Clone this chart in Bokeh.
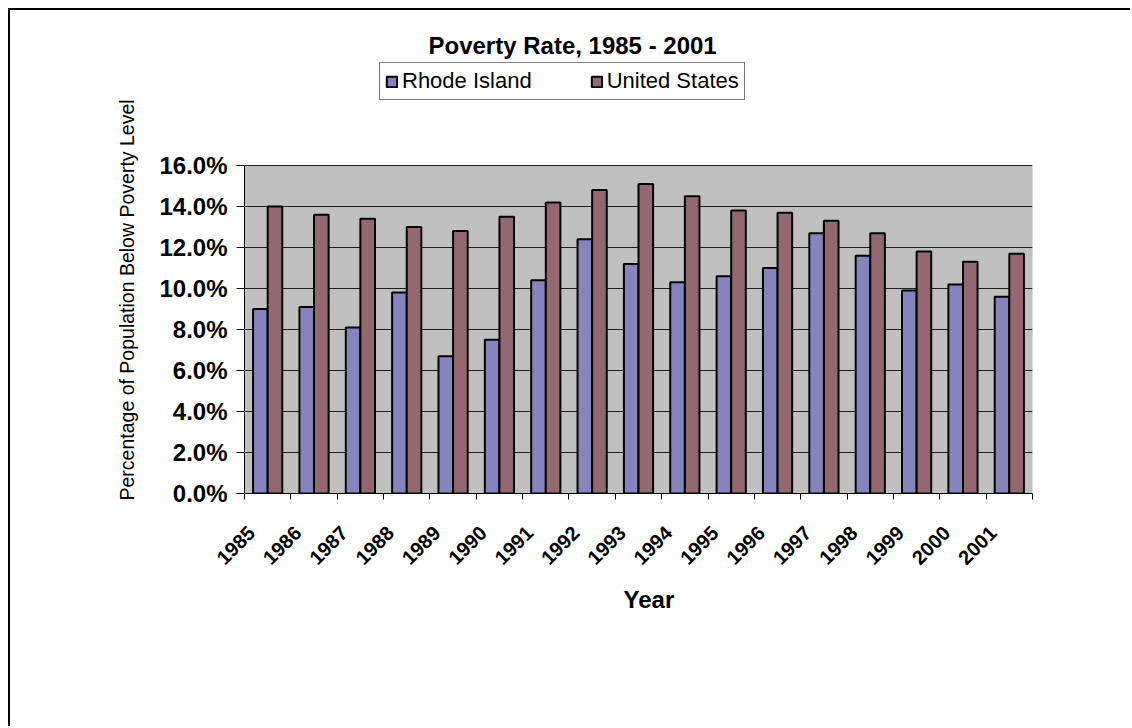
import math
from bokeh.plotting import figure
from bokeh.models import (Range1d, LinearAxis, FixedTicker, Legend, Title, BoxAnnotation,
                          LegendItem, ColumnDataSource, PrintfTickFormatter)
from bokeh.transform import dodge
from bokeh.embed import file_html
from bokeh.resources import INLINE

# ---- data ----
years = ["1985", "1986", "1987", "1988", "1989", "1990", "1991", "1992", "1993",
         "1994", "1995", "1996", "1997", "1998", "1999", "2000", "2001"]
rhode_island = [9.0, 9.1, 8.1, 9.8, 6.7, 7.5, 10.4, 12.4, 11.2, 10.3, 10.6, 11.0, 12.7, 11.6, 9.9, 10.2, 9.6]
united_states = [14.0, 13.6, 13.4, 13.0, 12.8, 13.5, 14.2, 14.8, 15.1, 14.5, 13.8, 13.7, 13.3, 12.7, 11.8, 11.3, 11.7]
y_ticks = [0, 2, 4, 6, 8, 10, 12, 14, 16]
series_names = ["Rhode Island", "United States"]
title_text = "Poverty Rate, 1985 - 2001"
x_title = "Year"
y_title = "Percentage of Population Below Poverty Level"

FONT = "Liberation Sans"
RI_COLOR = "#8783BE"
US_COLOR = "#946870"
PLOT_BG = "#C0C0C0"

# ---- layout (pixels on the canvas) ----
W, H = 1122, 718
FRAME_TOP, PLOT_TOP, FRAME_BOTTOM = 50, 155, 483   # frame top, grey area top, axis line
n = len(years)
centers = [k + 0.5 for k in range(n)]        # category slot k spans [k, k+1]
y_max = y_ticks[-1] * (FRAME_BOTTOM - FRAME_TOP) / (FRAME_BOTTOM - PLOT_TOP)

p = figure(width=W, height=H,
           x_range=Range1d(0, n), y_range=Range1d(0, y_max),
           output_backend="svg", toolbar_location=None,
           x_axis_location=None, y_axis_location="left",
           min_border_left=234, min_border_right=100,
           min_border_top=FRAME_TOP, min_border_bottom=H - FRAME_BOTTOM,
           background_fill_color="white", border_fill_color="white",
           outline_line_color=None)
p.title.visible = False
p.styles = {"margin-left": "8px", "margin-top": "8px",
            "border-top": "2px solid #000000", "border-left": "2px solid #000000"}

# grey plot area
p.add_layout(BoxAnnotation(left=0, right=n, bottom=0, top=y_ticks[-1],
                           fill_color=PLOT_BG, fill_alpha=1.0,
                           line_color="#808080", line_width=1, level="image"))

p.extra_x_ranges = {"labels": Range1d(-0.15, n - 0.15)}

edge_axis = LinearAxis(ticker=FixedTicker(ticks=list(range(n + 1))),
                       major_label_overrides={i: "" for i in range(n + 1)},
                       axis_line_color="black", axis_line_width=1,
                       major_tick_line_color="black", major_tick_out=6, major_tick_in=0,
                       minor_tick_line_color=None,
                       major_label_text_font_size="1px", major_label_standoff=0)
p.add_layout(edge_axis, "below")

label_axis = LinearAxis(x_range_name="labels",
                        ticker=FixedTicker(ticks=list(range(n))),
                        major_label_overrides={i: y for i, y in enumerate(years)},
                        axis_line_color=None, major_tick_line_color=None,
                        minor_tick_line_color=None,
                        major_label_orientation=math.pi / 4,
                        major_label_text_font=FONT, major_label_text_font_style="bold",
                        major_label_text_font_size="20px", major_label_text_color="black",
                        major_label_standoff=24)
p.add_layout(label_axis, "below")

yax = p.yaxis[0]
yax.ticker = FixedTicker(ticks=y_ticks)
yax.bounds = (0, y_ticks[-1])
yax.formatter = PrintfTickFormatter(format="%.1f%%")
yax.axis_line_color = "black"
yax.major_tick_line_color = "black"
yax.major_tick_out = 8
yax.major_tick_in = 0
yax.minor_tick_line_color = None
yax.major_label_text_font = FONT
yax.major_label_text_font_style = "bold"
yax.major_label_text_font_size = "24px"
yax.major_label_text_color = "black"
yax.major_label_standoff = 9

p.xgrid.grid_line_color = None
p.ygrid.ticker = FixedTicker(ticks=y_ticks)
p.ygrid.grid_line_color = "#1e1e1e"
p.ygrid.grid_line_width = 1

src = ColumnDataSource(dict(year=years, x=centers, ri=rhode_island, us=united_states))
bw = 0.315
r1 = p.vbar(x=dodge("x", -bw / 2), top="ri", width=bw, source=src,
            fill_color=RI_COLOR, line_color="black", line_width=2)
r2 = p.vbar(x=dodge("x", bw / 2), top="us", width=bw, source=src,
            fill_color=US_COLOR, line_color="black", line_width=2)

legend = Legend(items=[LegendItem(label=series_names[0], renderers=[r1]),
                       LegendItem(label=series_names[1], renderers=[r2])],
                location=(135, 393), orientation="horizontal",
                border_line_color="black", border_line_width=1,
                background_fill_color="white", background_fill_alpha=1.0,
                label_text_font=FONT, label_text_font_size="22px",
                label_text_color="black",
                glyph_width=13, glyph_height=13, label_standoff=4,
                spacing=58, padding=5, margin=0)
p.add_layout(legend, "center")

main_title = Title(text=title_text, align="left", offset=184, standoff=4,
                   text_font=FONT, text_font_style="bold", text_font_size="24px",
                   text_color="black")
p.add_layout(main_title, "above")

ytitle = Title(text=y_title, align="left", offset=-7, standoff=37,
               text_font=FONT, text_font_style="normal", text_font_size="19.5px",
               text_color="black")
p.add_layout(ytitle, "left")

xtitle = Title(text=x_title, align="left", offset=379, standoff=20,
               text_font=FONT, text_font_style="bold", text_font_size="24px",
               text_color="black")
p.add_layout(xtitle, "below")

open("out.html", "w").write(file_html(p, INLINE))
